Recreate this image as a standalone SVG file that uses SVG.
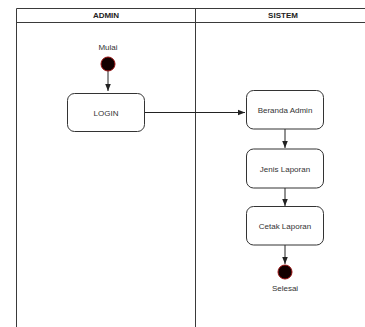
<svg xmlns="http://www.w3.org/2000/svg" width="365" height="327" viewBox="0 0 365 327">
<defs>
<style>
.lane{fill:none;stroke:#3a3a3a;stroke-width:1}
.hdr{font-family:"Liberation Sans",Arial,sans-serif;font-size:8px;font-weight:bold;fill:#222;text-anchor:middle}
.box{fill:#fff;stroke:#333;stroke-width:1}
.lbl{font-family:"Liberation Sans",Arial,sans-serif;font-size:8px;fill:#333;text-anchor:middle}
.edge{fill:none;stroke:#222;stroke-width:1}
.dot{fill:#120000;stroke:#9a1010;stroke-width:1}
</style>
<marker id="ah" viewBox="0 0 10 10" refX="10" refY="5" markerWidth="7" markerHeight="7" markerUnits="userSpaceOnUse" orient="auto">
<path d="M0,1 L10,5 L0,9 Z" fill="#222"/>
</marker>
</defs>
<rect x="0" y="0" width="365" height="327" fill="#fff"/>
<g id="swimlane">
<path class="lane" d="M16.5,327 V8.5 H365 M16.5,22.5 H365 M195.5,8.5 V327"/>
<text class="hdr" x="106" y="18">ADMIN</text>
<text class="hdr" x="283" y="18">SISTEM</text>
</g>
<g id="connectors">
<path class="edge" d="M108,71 V91" marker-end="url(#ah)"/>
<path class="edge" d="M145,112.5 H245" marker-end="url(#ah)"/>
<path class="edge" d="M285,129 V148" marker-end="url(#ah)"/>
<path class="edge" d="M285,188 V206" marker-end="url(#ah)"/>
<path class="edge" d="M285,245 V264" marker-end="url(#ah)"/>
</g>
<g id="start">
<text class="lbl" x="108" y="49.5">Mulai</text>
<circle class="dot" cx="108" cy="64" r="7"/>
</g>
<g id="login">
<rect class="box" x="67.5" y="93.5" width="77" height="38" rx="7"/>
<text class="lbl" x="106" y="115.5">LOGIN</text>
</g>
<g id="beranda">
<rect class="box" x="246.5" y="90.5" width="77" height="38.5" rx="7"/>
<text class="lbl" x="285" y="112.5">Beranda Admin</text>
</g>
<g id="jenis">
<rect class="box" x="246.5" y="149" width="77" height="39" rx="7"/>
<text class="lbl" x="285" y="172">Jenis Laporan</text>
</g>
<g id="cetak">
<rect class="box" x="246.5" y="206.5" width="77" height="38.5" rx="7"/>
<text class="lbl" x="285" y="229">Cetak Laporan</text>
</g>
<g id="end">
<circle class="dot" cx="285" cy="272" r="7"/>
<text class="lbl" x="285" y="291">Selesai</text>
</g>
</svg>
